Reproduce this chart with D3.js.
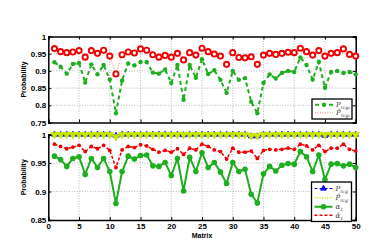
<!DOCTYPE html>
<html>
<head>
<meta charset="utf-8">
<script src="https://cdn.jsdelivr.net/npm/d3@7"></script>
<style>
  html, body { margin: 0; padding: 0; background: #fff; }
  svg { display: block; font-family: "Liberation Sans", Arial, Helvetica, sans-serif; }
</style>
</head>
<body>
<svg id="chart" width="374" height="245"></svg>
<script>
// --- Data ---
const matrixIds = d3.range(1, 51);

// top panel
const topGreen = [0.925, 0.912, 0.892, 0.920, 0.923, 0.866, 0.919, 0.890, 0.917, 0.875,
                  0.777, 0.872, 0.922, 0.916, 0.926, 0.926, 0.895, 0.892, 0.904, 0.865,
                  0.917, 0.816, 0.917, 0.880, 0.934, 0.891, 0.902, 0.874, 0.836, 0.900,
                  0.874, 0.879, 0.810, 0.777, 0.865, 0.890, 0.878, 0.894, 0.900, 0.897,
                  0.939, 0.917, 0.875, 0.926, 0.851, 0.897, 0.900, 0.894, 0.897, 0.890];
const topRed = [0.965, 0.956, 0.953, 0.955, 0.959, 0.940, 0.959, 0.951, 0.960, 0.943,
                0.891, 0.947, 0.955, 0.952, 0.964, 0.960, 0.947, 0.940, 0.945, 0.940,
                0.951, 0.932, 0.953, 0.946, 0.966, 0.956, 0.949, 0.943, 0.919, 0.953,
                0.939, 0.938, 0.941, 0.919, 0.946, 0.951, 0.948, 0.951, 0.954, 0.953,
                0.966, 0.956, 0.946, 0.959, 0.943, 0.951, 0.953, 0.964, 0.948, 0.943];

// bottom panel
const botBlue = [1, 1, 1, 1, 1, 1, 1, 1, 1, 1,
                 0.998, 1, 1, 1, 1, 1, 1, 1, 1, 1,
                 1, 0.999, 1, 1, 1, 1, 1, 1, 1, 1,
                 1, 1, 0.997, 0.997, 1, 1, 1, 1, 1, 1,
                 1, 1, 1, 1, 0.998, 1, 1, 1, 1, 1];
const botYellow = [1, 1, 1, 1, 1, 1, 1, 1, 1, 1,
                   0.996, 1, 1, 1, 1, 1, 1, 1, 1, 1,
                   1, 1, 1, 1, 1, 1, 1, 1, 1, 1,
                   1, 1, 0.998, 0.998, 1, 1, 1, 1, 1, 1,
                   1, 1, 1, 1, 1, 1, 1, 1, 1, 1];
const botGreen = [0.962, 0.956, 0.944, 0.958, 0.961, 0.930, 0.958, 0.942, 0.958, 0.935,
                  0.879, 0.935, 0.962, 0.957, 0.963, 0.964, 0.945, 0.944, 0.951, 0.928,
                  0.958, 0.901, 0.960, 0.935, 0.968, 0.942, 0.951, 0.934, 0.914, 0.951,
                  0.935, 0.939, 0.895, 0.880, 0.931, 0.944, 0.936, 0.946, 0.949, 0.948,
                  0.970, 0.961, 0.935, 0.964, 0.921, 0.948, 0.949, 0.945, 0.948, 0.942];
const botRed = [0.983, 0.979, 0.975, 0.978, 0.981, 0.970, 0.979, 0.975, 0.981, 0.972,
                0.942, 0.973, 0.979, 0.977, 0.982, 0.980, 0.974, 0.969, 0.972, 0.969,
                0.975, 0.965, 0.976, 0.973, 0.983, 0.979, 0.973, 0.970, 0.957, 0.976,
                0.969, 0.969, 0.971, 0.958, 0.972, 0.974, 0.973, 0.974, 0.976, 0.974,
                0.983, 0.980, 0.973, 0.981, 0.970, 0.976, 0.976, 0.983, 0.974, 0.971];

const xTicks = [0, 5, 10, 15, 20, 25, 30, 35, 40, 45, 50];
const topTicks = [0.75, 0.8, 0.85, 0.9, 0.95, 1];
const botTicks = [0.85, 0.9, 0.95, 1];

// --- Colours ---
const GREEN = "#1fae1f", RED = "#f00000", BLUE = "#0000ee", YELLOW = "#c8e600";

// --- Setup ---
const svg = d3.select("#chart");
const x = d3.scaleLinear().domain([0, 50]).range([48.3, 355.7]);
const yTop = d3.scaleLinear().domain([0.75, 1]).range([122.5, 36.5]);
const yBot = d3.scaleLinear().domain([0.85, 1]).range([220, 134.5]);

function drawFrame(y, yticks, showX) {
  const g = svg.append("g");
  const [y0, y1] = y.range();
  // dotted grid
  g.selectAll(".gx").data(xTicks.slice(1, -1)).enter().append("line")
    .attr("x1", d => x(d)).attr("x2", d => x(d)).attr("y1", y0).attr("y2", y1)
    .attr("stroke", "#9a9a9a").attr("stroke-width", 0.7).attr("stroke-dasharray", "1,1.6");
  g.selectAll(".gy").data(yticks.slice(1, -1)).enter().append("line")
    .attr("y1", d => y(d)).attr("y2", d => y(d)).attr("x1", x(0)).attr("x2", x(50))
    .attr("stroke", "#9a9a9a").attr("stroke-width", 0.7).attr("stroke-dasharray", "1,1.6");

  const axes = svg.append("g").attr("class", "axes");
  axes.append("g").attr("transform", `translate(${x(0)},0)`)
    .call(d3.axisLeft(y).tickValues(yticks).tickSize(-3).tickPadding(2).tickFormat(d3.format("~g")));
  axes.append("g").attr("transform", `translate(${x(50)},0)`)
    .call(d3.axisRight(y).tickValues(yticks).tickSize(-3).tickFormat(""));
  axes.append("g").attr("transform", `translate(0,${y1})`)
    .call(d3.axisTop(x).tickValues(xTicks).tickSize(-3).tickFormat(""));
  axes.append("g").attr("transform", `translate(0,${y0})`)
    .call(d3.axisBottom(x).tickValues(xTicks).tickSize(-3).tickPadding(3)
      .tickFormat(showX ? d3.format("~g") : ""));
  axes.selectAll(".domain").attr("stroke", "#000").attr("stroke-width", 1.5);
  axes.selectAll(".tick line").attr("stroke", "#000").attr("stroke-width", 1);
  axes.selectAll("text").attr("font-size", 8).attr("font-weight", "bold")
    .attr("font-family", "'Liberation Sans', Arial, sans-serif").attr("fill", "#000");

  svg.append("text")
    .attr("transform", `translate(26,${(y0 + y1) / 2}) rotate(-90)`)
    .attr("text-anchor", "middle").attr("font-size", 7).attr("font-weight", "bold")
    .text("Probability");
  return axes;
}

function series(y, values, opt) {
  const pts = values.map((v, i) => [x(matrixIds[i]), y(v)]);
  const g = svg.append("g");
  g.append("path").attr("d", d3.line()(pts)).attr("fill", "none")
    .attr("stroke", opt.line || opt.color).attr("stroke-width", opt.width)
    .attr("stroke-dasharray", opt.dash || null);
  drawMarkers(g, pts, opt);
}

function drawMarkers(g, pts, opt) {
  if (opt.marker === "dot") {
    g.selectAll("circle").data(pts).enter().append("circle")
      .attr("cx", d => d[0]).attr("cy", d => d[1]).attr("r", opt.r).attr("fill", opt.color);
  } else if (opt.marker === "ring") {
    g.selectAll("circle").data(pts).enter().append("circle")
      .attr("cx", d => d[0]).attr("cy", d => d[1]).attr("r", opt.r)
      .attr("fill", "#fff").attr("stroke", opt.color).attr("stroke-width", 1.9);
  } else {
    const sym = d3.symbol().type(d3.symbolTriangle).size(opt.size);
    g.selectAll("path.m").data(pts).enter().append("path").attr("class", "m")
      .attr("d", sym)
      .attr("transform", d => `translate(${d[0]},${d[1]}) rotate(${opt.marker === "down" ? 180 : 0})`)
      .attr("fill", opt.color).attr("stroke", opt.color).attr("stroke-width", 0.6);
  }
}

// --- Top panel ---
drawFrame(yTop, topTicks, false);
const topGreenOpt = { color: GREEN, width: 2, dash: "4,3", marker: "dot", r: 2.2 };
const topRedOpt = { color: RED, line: "#ff6060", width: 0.8, dash: "1,1.5", marker: "ring", r: 2.6 };
series(yTop, topGreen, topGreenOpt);
series(yTop, topRed, topRedOpt);

// --- Bottom panel ---
drawFrame(yBot, botTicks, true);
const blueOpt = { color: BLUE, width: 1, dash: "3,2", marker: "up", size: 16 };
const yellowOpt = { color: YELLOW, width: 1.5, dash: "1,1.5", marker: "down", size: 26 };
const botGreenOpt = { color: GREEN, width: 2, marker: "dot", r: 2.8 };
const botRedOpt = { color: RED, width: 1.5, dash: "3,2", marker: "dot", r: 1.9 };
series(yBot, botBlue, blueOpt);
series(yBot, botYellow, yellowOpt);
series(yBot, botGreen, botGreenOpt);
series(yBot, botRed, botRedOpt);

svg.append("text").attr("x", x(25)).attr("y", 238).attr("text-anchor", "middle")
  .attr("font-size", 7).attr("font-weight", "bold").text("Matrix");

// --- Legends ---
function legend(x0, y0, w, entries) {
  const g = svg.append("g");
  const h = entries.reduce((s, e) => s + e.h, 4);
  g.append("rect").attr("x", x0).attr("y", y0).attr("width", w).attr("height", h)
    .attr("fill", "#fff").attr("stroke", "#000").attr("stroke-width", 1.3);
  let cy = y0 + 2;
  entries.forEach(e => {
    const yy = cy + e.h / 2;
    g.append("line").attr("x1", x0 + 3).attr("x2", x0 + 21).attr("y1", yy).attr("y2", yy)
      .attr("stroke", e.opt.line || e.opt.color).attr("stroke-width", e.opt.width)
      .attr("stroke-dasharray", e.opt.dash || null);
    drawMarkers(g, [[x0 + 12, yy]], e.opt);
    const t = g.append("text").attr("x", x0 + 24).attr("y", yy + 2.5)
      .attr("font-family", "'DejaVu Serif', 'Liberation Serif', serif")
      .attr("font-style", "italic").attr("font-size", 7).attr("fill", "#333");
    t.append("tspan").text(e.main);
    t.append("tspan").attr("dy", 2).attr("font-size", 4.5).text(e.sub);
    cy += e.h;
  });
}

legend(312, 99, 40, [
  { opt: topGreenOpt, main: "P", sub: "rcg\u2082" , h: 7.5 },
  { opt: topRedOpt, main: "P\u0302", sub: "rcg\u2082", h: 8.5 }
]);
legend(311.5, 182, 40, [
  { opt: blueOpt, main: "P", sub: "rcg", h: 9 },
  { opt: yellowOpt, main: "P\u0302", sub: "rcg", h: 9.5 },
  { opt: botGreenOpt, main: "\u03B1", sub: "1", h: 8.5 },
  { opt: botRedOpt, main: "\u1FB1", sub: "1", h: 8.5 }
]);
</script>
</body>
</html>
